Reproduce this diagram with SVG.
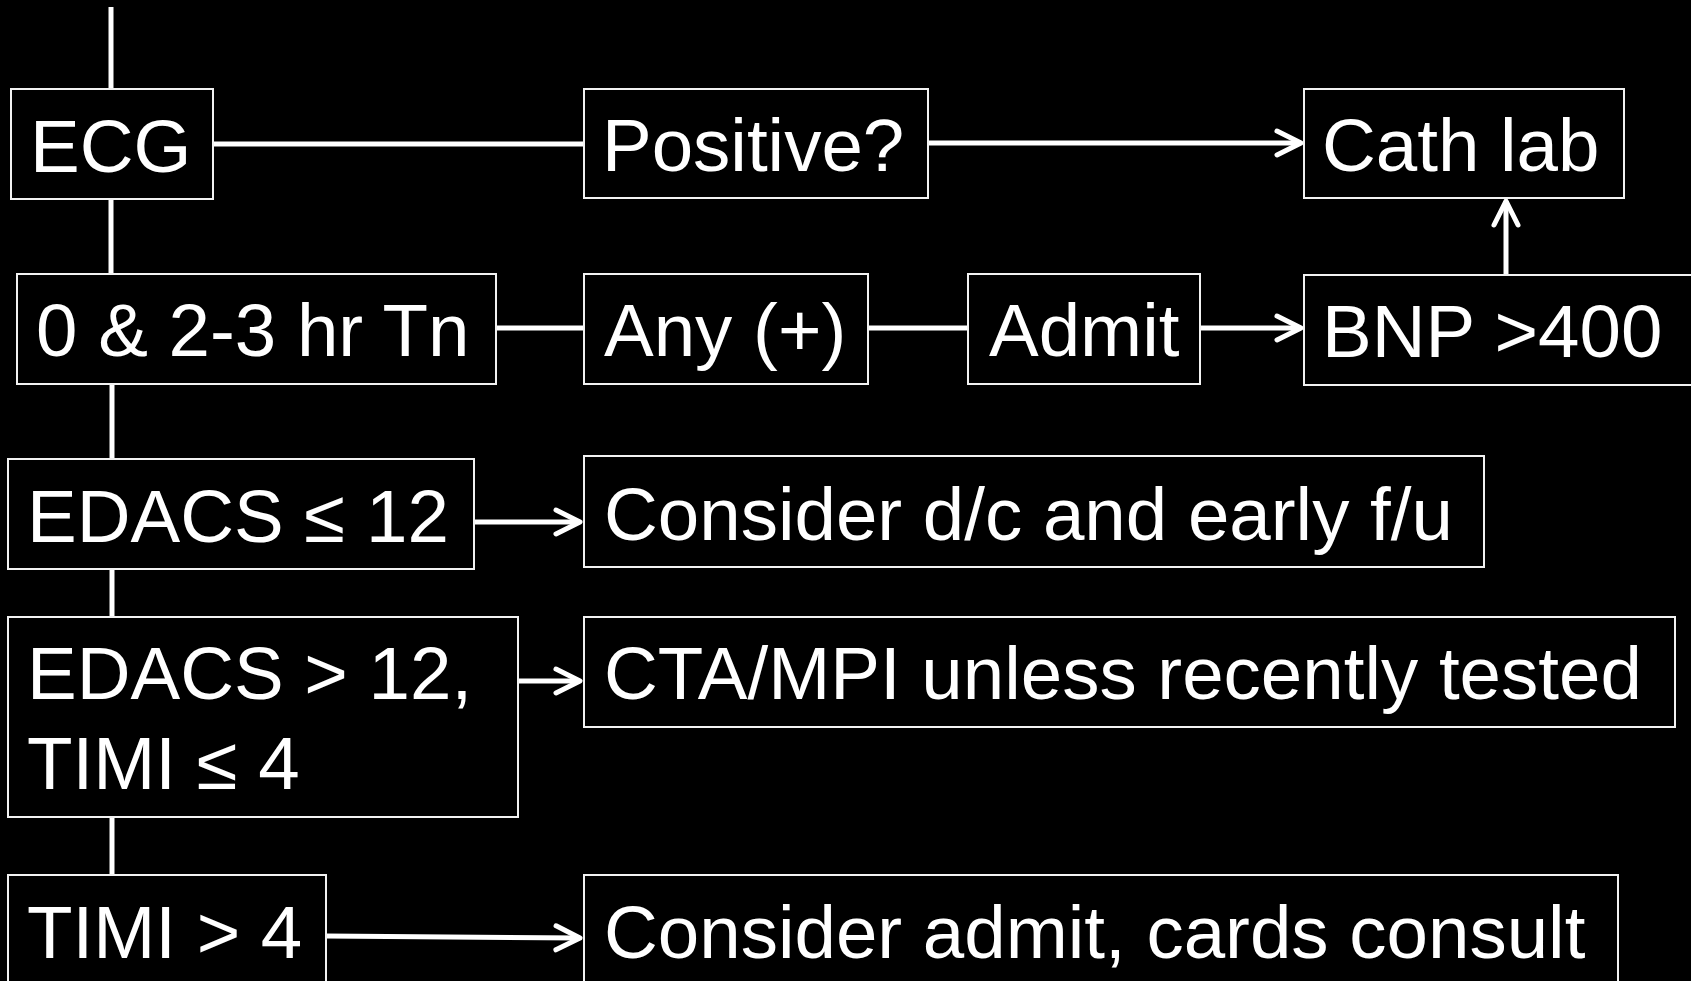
<svg xmlns="http://www.w3.org/2000/svg" width="1691" height="981" viewBox="0 0 1691 981">
<style>
.box{fill:#000;stroke:#f2f2f2;stroke-width:2}
.lbl{font-family:"Liberation Sans",Arial,sans-serif;font-size:74.5px;fill:#fff}
.c{stroke:#fff;stroke-width:5;fill:none}
</style>
<defs>
<marker id="ah" markerUnits="userSpaceOnUse" markerWidth="40" markerHeight="40" viewBox="-30 -20 40 40" refX="0" refY="0" orient="auto">
<path d="M-24,-12 L0,0 L-24,12" fill="none" stroke="#fff" stroke-width="5" stroke-linecap="round" stroke-linejoin="round"/>
</marker>
</defs>
<rect width="1691" height="981" fill="#000"/>
<g id="connectors">
<line class="c" x1="111" y1="7" x2="111" y2="89"/>
<line class="c" x1="111" y1="199" x2="111" y2="274"/>
<line class="c" x1="112" y1="384" x2="112" y2="459"/>
<line class="c" x1="112" y1="569" x2="112" y2="617"/>
<line class="c" x1="112" y1="817" x2="112" y2="875"/>
<line class="c" x1="213" y1="144" x2="584" y2="144"/>
<line class="c" x1="928" y1="143" x2="1301" y2="143" marker-end="url(#ah)"/>
<line class="c" x1="496" y1="328" x2="584" y2="328"/>
<line class="c" x1="868" y1="328" x2="968" y2="328"/>
<line class="c" x1="1200" y1="328" x2="1301" y2="328" marker-end="url(#ah)"/>
<line class="c" x1="1506" y1="275" x2="1506" y2="201" marker-end="url(#ah)"/>
<line class="c" x1="472" y1="522" x2="580" y2="522" marker-end="url(#ah)"/>
<line class="c" x1="518" y1="681" x2="580" y2="681" marker-end="url(#ah)"/>
<line class="c" x1="326" y1="936" x2="580" y2="938" marker-end="url(#ah)"/>
</g>
<g id="ecg"><rect class="box" x="11" y="89" width="202" height="110"/><text class="lbl" x="30" y="172">ECG</text></g>
<g id="positive"><rect class="box" x="584" y="89" width="344" height="109"/><text class="lbl" x="602" y="171">Positive?</text></g>
<g id="cathlab"><rect class="box" x="1304" y="89" width="320" height="109"/><text class="lbl" x="1322" y="171">Cath lab</text></g>
<g id="tn"><rect class="box" x="17" y="274" width="479" height="110"/><text class="lbl" x="36" y="356">0 &amp; 2-3 hr Tn</text></g>
<g id="any"><rect class="box" x="584" y="274" width="284" height="110"/><text class="lbl" x="604" y="356">Any (+)</text></g>
<g id="admit"><rect class="box" x="968" y="274" width="232" height="110"/><text class="lbl" x="989" y="356">Admit</text></g>
<g id="bnp"><rect class="box" x="1304" y="275" width="400" height="110"/><text class="lbl" x="1322" y="357">BNP &gt;400</text></g>
<g id="edacs-low"><rect class="box" x="8" y="459" width="466" height="110"/><text class="lbl" x="27" y="542">EDACS ≤ 12</text></g>
<g id="consider-dc"><rect class="box" x="584" y="456" width="900" height="111"/><text class="lbl" x="604" y="540">Consider d/c and early f/u</text></g>
<g id="edacs-high"><rect class="box" x="8" y="617" width="510" height="200"/><text class="lbl" x="27" y="699">EDACS &gt; 12,</text><text class="lbl" x="27" y="789">TIMI ≤ 4</text></g>
<g id="cta"><rect class="box" x="584" y="617" width="1091" height="110"/><text class="lbl" x="604" y="699">CTA/MPI unless recently tested</text></g>
<g id="timi-high"><rect class="box" x="8" y="875" width="318" height="120"/><text class="lbl" x="27" y="958">TIMI &gt; 4</text></g>
<g id="consider-admit"><rect class="box" x="584" y="875" width="1034" height="120"/><text class="lbl" x="604" y="958">Consider admit, cards consult</text></g>
</svg>
